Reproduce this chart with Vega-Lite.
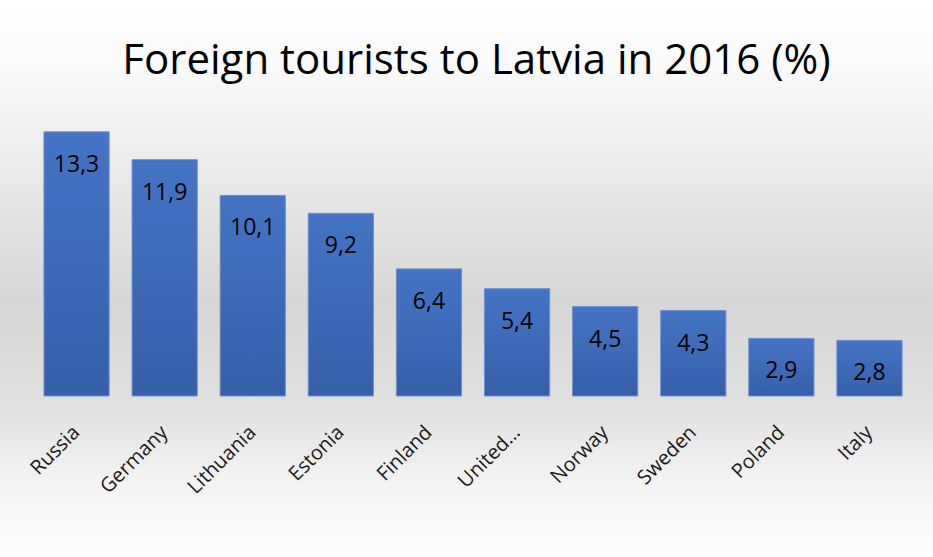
{
  "$schema": "https://vega.github.io/schema/vega-lite/v6.json",
  "width": 933,
  "height": 557,
  "autosize": {"type": "none"},
  "padding": 0,
  "background": "white",
  "title": {
    "text": "Foreign tourists to Latvia in 2016 (%)",
    "font": "Open Sans",
    "fontSize": 42,
    "fontWeight": "normal",
    "color": "black",
    "anchor": "middle",
    "baseline": "alphabetic",
    "offset": -116,
    "dx": 10
  },
  "config": {
    "view": {
      "stroke": null,
      "fill": {
        "gradient": "linear",
        "x1": 0, "y1": 0, "x2": 0, "y2": 1,
        "stops": [
          {"offset": 0, "color": "#ffffff"},
          {"offset": 0.12, "color": "#fafafa"},
          {"offset": 0.55, "color": "#d6d6d6"},
          {"offset": 0.72, "color": "#e0e0e0"},
          {"offset": 0.86, "color": "#f3f3f3"},
          {"offset": 1, "color": "#fdfdfd"}
        ]
      }
    },
    "locale": {
      "number": {"decimal": ",", "thousands": " ", "grouping": [3], "currency": ["", " €"]}
    }
  },
  "data": {
    "values": [
      {"country": "Russia", "share": 13.3},
      {"country": "Germany", "share": 11.9},
      {"country": "Lithuania", "share": 10.1},
      {"country": "Estonia", "share": 9.2},
      {"country": "Finland", "share": 6.4},
      {"country": "United Kingdom", "share": 5.4},
      {"country": "Norway", "share": 4.5},
      {"country": "Sweden", "share": 4.3},
      {"country": "Poland", "share": 2.9},
      {"country": "Italy", "share": 2.8}
    ]
  },
  "encoding": {
    "x": {
      "field": "country",
      "type": "nominal",
      "sort": null,
      "scale": {"paddingInner": 0.26, "paddingOuter": 0.425, "align": 0.587},
      "axis": {
        "title": null,
        "domain": false,
        "ticks": false,
        "offset": -161,
        "labelAngle": -45,
        "labelAlign": "right",
        "labelBaseline": "middle",
        "labelPadding": 33,
        "labelFont": "Open Sans",
        "labelFontSize": 20,
        "labelColor": "#1a1a1a",
        "labelExpr": "datum.label == 'United Kingdom' ? 'United…' : datum.label"
      }
    },
    "y": {
      "field": "share",
      "type": "quantitative",
      "scale": {"domain": [-8.108, 19.94], "nice": false, "zero": false},
      "axis": null
    }
  },
  "layer": [
    {
      "mark": {
        "type": "bar",
        "stroke": "#6d8fcf",
        "strokeWidth": 1,
        "color": {
          "gradient": "linear",
          "x1": 0, "y1": 0, "x2": 0, "y2": 1,
          "stops": [
            {"offset": 0, "color": "#4574c6"},
            {"offset": 1, "color": "#365fa9"}
          ]
        }
      }
    },
    {
      "mark": {
        "type": "text",
        "font": "Open Sans",
        "fontSize": 23,
        "color": "black",
        "baseline": "alphabetic",
        "dy": 40
      },
      "encoding": {
        "text": {"field": "share", "type": "quantitative", "format": ".1f"}
      }
    }
  ]
}
